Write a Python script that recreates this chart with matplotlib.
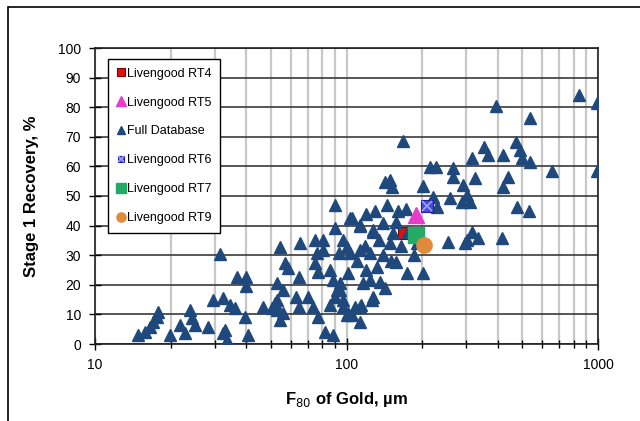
import matplotlib
matplotlib.use("Agg")
import matplotlib.pyplot as plt
from matplotlib.patches import Rectangle
from matplotlib.ticker import LogLocator, NullFormatter, FixedLocator

plt.rcParams['font.family'] = ['Liberation Sans', 'DejaVu Sans']

# full database (F80 of gold um, stage 1 recovery %)
db_x = [14.8, 15.8, 16.5, 17.0, 17.6, 17.8, 19.9, 21.8, 22.8, 23.9, 24.3, 25.0, 28.1,
        31.4, 29.5, 32.2, 34.4, 36.7, 40.0, 40.0, 33.0, 33.5, 36.0, 39.5, 32.2, 40.5,
        46.6, 52.0, 53.0, 56.0, 54.5, 63.0, 65.0, 70.0, 73.5, 77.0, 82.0, 86.0, 92.0,
        97.0, 101, 113, 108, 114, 53.0, 56.0, 53.0, 50.6,
        54.5, 65.3, 75.0, 90.0, 103, 113, 127, 90.0, 80.5, 97.0, 76.0, 81.0, 93.0,
        103, 113, 124, 57.0, 58.5, 65.0, 75.0, 77.0, 86.0, 88.0, 101, 94.0, 120, 116,
        127, 158, 174, 201, 142, 126, 113, 100, 105, 132, 140, 124, 136, 94.0, 90.0,
        97.0, 88.0,
        105, 113, 127, 140, 158, 153, 149, 253, 302, 333, 415, 296, 191, 100, 316,
        130, 120, 145, 160, 135, 118, 165, 150, 110, 175, 185,
        840, 990, 394, 537, 168, 472, 352, 489, 365, 316, 419, 499, 537, 656, 990,
        215, 227, 265, 265, 149, 142, 151, 324, 201, 290, 439, 419, 302, 311, 287,
        258, 220, 230, 173, 476, 532]
db_y = [3.0, 4.0, 5.7, 7.4, 9.1, 10.8, 3.0, 6.4, 3.7, 11.5, 8.8, 6.4, 5.7,
        30.5, 14.9, 15.5, 13.2, 22.5, 22.5, 19.5, 4.7, 1.4, 12.2, 9.1, 3.7, 3.0,
        12.5, 13.9, 11.5, 10.5, 8.1, 15.9, 12.5, 15.9, 12.5, 9.1, 4.1, 13.2, 18.2,
        14.9, 10.5, 7.4, 12.5, 13.2, 20.6, 18.2, 14.9, 12.2,
        32.8, 34.1, 35.1, 47.0, 42.6, 40.2, 38.5, 39.2, 35.1, 35.1, 30.7, 31.8, 30.7,
        30.7, 31.8, 30.7, 27.4, 25.7, 22.6, 27.4, 24.3, 25.0, 21.6, 24.0, 18.2, 25.0, 20.6,
        15.9, 27.7, 24.0, 24.0, 18.9, 14.9, 12.5, 9.8, 9.8, 26.0, 30.0, 21.6, 20.9, 20.6, 15.9,
        12.5, 3.0,
        42.6, 39.9, 37.8, 40.9, 41.2, 37.5, 34.1, 34.5, 35.1, 35.8, 35.8, 34.1, 34.1, 32.8, 37.8,
        45.0, 44.0, 47.0, 45.0, 35.0, 33.0, 33.0, 28.0, 28.0, 38.0, 30.0,
        84.0, 81.5, 80.5, 76.5, 68.5, 68.2, 66.6, 65.5, 63.9, 62.8, 63.9, 62.8, 61.5, 58.4, 58.4,
        59.8, 59.8, 59.5, 56.4, 55.4, 54.7, 53.0, 56.0, 53.4, 53.7, 56.4, 53.0, 50.3, 48.0, 48.0,
        49.3, 49.7, 46.3, 45.6, 46.3, 44.9]

# Livengood tests
rt4_x, rt4_y = [170], [37.5]
rt5_x, rt5_y = [189], [43.6]
rt6_x, rt6_y = [209], [46.6]
rt7_x, rt7_y = [189], [36.8]
rt9_x, rt9_y = [203], [33.4]

navy = '#1f497d'

fig = plt.figure(figsize=(6.4, 4.21), dpi=100)
ax = fig.add_axes([95 / 640, 1 - 344 / 421, 503 / 640, 296 / 421])

h4, = ax.plot(rt4_x, rt4_y, 's', ms=9, mfc='#e01010', mec='#800000', mew=0.8, zorder=2.5)
hdb, = ax.plot(db_x, db_y, '^', ms=9, color=navy, mec=navy, zorder=3)
h5, = ax.plot(rt5_x, rt5_y, '^', ms=11, color='#e83ccc', mec='#e83ccc', zorder=4)
h6s, = ax.plot(rt6_x, rt6_y, 's', ms=8, mfc='#4a4ae0', mec='#2020a0', mew=0.8, zorder=4)
h6x, = ax.plot(rt6_x, rt6_y, 'x', ms=7, color='#a0a0ff', mew=1.2, zorder=4.1)
h7, = ax.plot(rt7_x, rt7_y, 's', ms=11, color='#22aa66', zorder=4)
h9, = ax.plot(rt9_x, rt9_y, 'o', ms=11, color='#e08a3c', zorder=4.2)

ax.set_xscale('log')
ax.set_xlim(10, 1000)
ax.set_ylim(0, 100)
ax.xaxis.set_major_locator(FixedLocator([10, 100, 1000]))
ax.set_xticklabels(['10', '100', '1000'])
ax.xaxis.set_minor_locator(LogLocator(base=10, subs=range(2, 10)))
ax.xaxis.set_minor_formatter(NullFormatter())
ax.set_yticks(range(0, 101, 10))

ax.grid(axis='x', which='both', color='#c8c8c8', lw=1.6, zorder=0)
ax.grid(axis='y', which='major', color='#3a3a3a', lw=1.2, zorder=0)
ax.set_axisbelow(True)

ax.tick_params(axis='both', which='major', direction='inout', length=8, width=1,
               labelsize=10, pad=6)
ax.tick_params(axis='x', which='minor', direction='inout', length=6, width=1)
for s in ax.spines.values():
    s.set_linewidth(1.2)
    s.set_color('#202020')

ax.set_xlabel('F$_{80}$ of Gold, µm', fontsize=12, fontweight='bold', labelpad=13)
ax.set_ylabel('Stage 1 Recovery, %', fontsize=12, fontweight='bold', labelpad=14)

leg = ax.legend([h4, h5, hdb, (h6s, h6x), h7, h9],
                ['Livengood RT4', 'Livengood RT5', 'Full Database',
                 'Livengood RT6', 'Livengood RT7', 'Livengood RT9'],
                loc='upper left', bbox_to_anchor=(0.026, 0.963), borderaxespad=0,
                fontsize=9, labelspacing=1.35, handlelength=0.6, handletextpad=0.2,
                borderpad=0.7, markerscale=0.6, fancybox=False, framealpha=1,
                edgecolor='black')
leg.get_frame().set_linewidth(1.0)

# outer frame of the original figure (cut at right and bottom)
fig.add_artist(Rectangle((8 / 640, -0.1), 1.1, 1 - 7 / 421 + 0.1, transform=fig.transFigure,
                         fill=False, ec='black', lw=1.2, clip_on=False))

fig.savefig('out.png', dpi=100)
